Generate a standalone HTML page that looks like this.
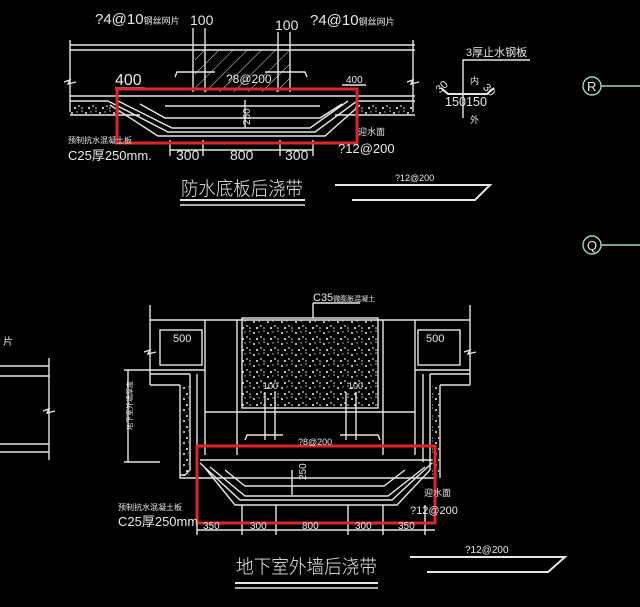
<!DOCTYPE html>
<html><head><meta charset="utf-8"><style>
html,body{margin:0;padding:0;background:#000;}
svg{display:block}
text{font-family:"Liberation Sans","Noto Sans CJK SC",sans-serif;fill:#e8e8e8}
</style></head><body>
<svg width="640" height="607" viewBox="0 0 640 607" xmlns="http://www.w3.org/2000/svg">
<rect width="640" height="607" fill="#000"/>
<defs>
<pattern id="hatch" width="10" height="10" patternUnits="userSpaceOnUse" patternTransform="rotate(45)">
<line x1="0" y1="0" x2="0" y2="10" stroke="#ddd" stroke-width="1"/></pattern>
<pattern id="dots" width="14" height="11" patternUnits="userSpaceOnUse">
<circle cx="2" cy="3" r="1" fill="#eee"/><circle cx="9" cy="7" r="0.9" fill="#ddd"/><circle cx="12" cy="1" r="0.8" fill="#ccc"/><circle cx="5" cy="9" r="1" fill="#fff"/><circle cx="7" cy="2" r="0.7" fill="#ccc"/><circle cx="12" cy="9" r="0.8" fill="#eee"/></pattern>
</defs>
<g stroke="#e6e6e6" stroke-width="1.4" fill="none">
<!-- TOP DRAWING -->
<line x1="70" y1="45" x2="415" y2="45"/><line x1="70" y1="50" x2="415" y2="50"/>
<line x1="70" y1="40" x2="70" y2="112"/><line x1="413" y1="40" x2="413" y2="112"/>
<polyline points="64,82 70,80 68,84 76,82"/><polyline points="407,82 413,80 411,84 419,82"/>
<line x1="70" y1="96" x2="415" y2="96"/><line x1="70" y1="101" x2="108" y2="101"/><line x1="357" y1="101" x2="415" y2="101"/>
<line x1="70" y1="115" x2="140" y2="115"/><line x1="335" y1="115" x2="415" y2="115"/>
<rect x="70" y="103" width="50" height="11" fill="url(#dots)" stroke="none"/>
<rect x="355" y="103" width="58" height="11" fill="url(#dots)" stroke="none"/>
<polygon points="195,50 290,50 290,92 195,92" fill="url(#hatch)" stroke="none"/>
<line x1="193" y1="28" x2="193" y2="92"/><line x1="205" y1="28" x2="205" y2="92"/>
<line x1="278" y1="32" x2="278" y2="92"/><line x1="290" y1="32" x2="290" y2="92"/>
<polyline points="175,77 177,72 215,72"/><polyline points="265,72 305,72 307,77"/>
<polyline points="108,101 168,132 315,132 357,101"/>
<polyline points="118,101 172,128 310,128 348,101"/>
<polyline points="140,104 165,118 320,118 342,104"/>
<line x1="165" y1="106" x2="320" y2="106"/>
<polyline points="110,105 158,136 325,136 360,105"/>
<line x1="170" y1="150" x2="313" y2="150"/>
<line x1="170" y1="140" x2="170" y2="156"/><line x1="203" y1="140" x2="203" y2="156"/><line x1="280" y1="140" x2="280" y2="156"/><line x1="313" y1="140" x2="313" y2="156"/>
<line x1="115" y1="88" x2="145" y2="88"/><line x1="342" y1="85" x2="366" y2="85"/>
<line x1="245" y1="100" x2="245" y2="128"/>
<line x1="180" y1="200" x2="305" y2="200" stroke-width="2"/><line x1="180" y1="205" x2="305" y2="205"/>
<polyline points="335,185 490,185 475,200 352,200" stroke-width="2"/>
<polyline points="463,118 463,60 530,60"/>
<polyline points="441,88 448,94 487,94 494,88" stroke-width="2"/>
<g stroke="#9fd9b0"><circle cx="592" cy="86" r="9"/><line x1="601" y1="86" x2="640" y2="86"/>
<circle cx="592" cy="245" r="9"/><line x1="601" y1="245" x2="640" y2="245"/></g>

<!-- BOTTOM DRAWING -->
<line x1="150" y1="320" x2="470" y2="320"/>
<line x1="150" y1="305" x2="150" y2="385"/><line x1="470" y1="305" x2="470" y2="385"/>
<polyline points="144,352 150,350 148,354 156,352"/><polyline points="464,352 470,350 468,354 476,352"/>
<line x1="150" y1="370" x2="205" y2="370"/><line x1="415" y1="370" x2="470" y2="370"/>
<line x1="150" y1="374" x2="190" y2="374"/><line x1="430" y1="374" x2="470" y2="374"/>
<line x1="150" y1="385" x2="180" y2="385"/><line x1="440" y1="385" x2="470" y2="385"/>
<rect x="160" y="330" width="42" height="35"/><rect x="418" y="330" width="42" height="35"/>
<rect x="242" y="318" width="136" height="90" fill="url(#dots)"/>
<line x1="313" y1="303" x2="313" y2="318"/><line x1="313" y1="303" x2="360" y2="303"/>
<line x1="205" y1="320" x2="205" y2="455"/><line x1="237" y1="320" x2="237" y2="455"/>
<line x1="383" y1="320" x2="383" y2="455"/><line x1="415" y1="320" x2="415" y2="455"/>
<line x1="205" y1="412" x2="415" y2="412"/>
<polyline points="190,374 190,470 185,475 180,475"/><polyline points="197,374 197,462"/>
<polyline points="180,385 180,478 435,478"/>
<polyline points="430,374 430,470"/><polyline points="423,374 423,462"/><polyline points="440,385 440,478"/>
<rect x="182" y="386" width="7" height="90" fill="url(#dots)" stroke="none"/>
<rect x="432" y="386" width="7" height="90" fill="url(#dots)" stroke="none"/>
<line x1="265" y1="392" x2="265" y2="440"/><line x1="275" y1="392" x2="275" y2="440"/>
<line x1="346" y1="392" x2="346" y2="440"/><line x1="356" y1="392" x2="356" y2="440"/>
<polyline points="245,440 247,435 283,435"/><polyline points="340,435 378,435 380,440"/>
<line x1="200" y1="460" x2="432" y2="460"/>
<polyline points="200,463 240,500 392,500 432,463"/>
<polyline points="210,467 245,496 388,496 425,467"/>
<polyline points="225,470 245,486 384,486 405,470"/>
<polyline points="205,468 235,505 397,505 430,470"/>
<line x1="292" y1="470" x2="292" y2="495"/>
<line x1="197" y1="530" x2="435" y2="530"/>
<line x1="197" y1="515" x2="197" y2="535"/><line x1="242" y1="505" x2="242" y2="535"/><line x1="276" y1="505" x2="276" y2="535"/><line x1="348" y1="505" x2="348" y2="535"/><line x1="383" y1="505" x2="383" y2="535"/><line x1="425" y1="505" x2="425" y2="535"/>
<line x1="128" y1="370" x2="128" y2="462"/><line x1="124" y1="370" x2="150" y2="370"/><line x1="124" y1="462" x2="160" y2="462"/>
<line x1="235" y1="583" x2="378" y2="583" stroke-width="2"/><line x1="235" y1="588" x2="378" y2="588"/>
<polyline points="410,557 565,557 548,572 427,572" stroke-width="2"/>
<line x1="0" y1="366" x2="49" y2="366"/><line x1="0" y1="376" x2="49" y2="376"/>
<line x1="0" y1="444" x2="49" y2="444"/><line x1="0" y1="452" x2="49" y2="452"/>
<line x1="49" y1="358" x2="49" y2="460"/><polyline points="43,411 49,409 47,413 55,411"/>
</g>
<rect x="117" y="89" width="240" height="54" fill="none" stroke="#e0242c" stroke-width="3"/>
<rect x="197" y="446" width="238" height="77" fill="none" stroke="#e0242c" stroke-width="3"/>

<text x="95" y="24" font-size="15">?4@10<tspan font-size="9">钢丝网片</tspan></text>
<text x="190" y="25" font-size="14">100</text>
<text x="275" y="30" font-size="14">100</text>
<text x="310" y="25" font-size="15">?4@10<tspan font-size="9">钢丝网片</tspan></text>
<text x="115" y="85" font-size="16">400</text>
<text x="226" y="83" font-size="12">?8@200</text>
<text x="346" y="83" font-size="10">400</text>
<text x="250" y="125" font-size="10" transform="rotate(-90 250 125)">250</text>
<text x="68" y="143" font-size="8">预制抗水混凝土板</text>
<text x="68" y="160" font-size="13">C25厚250mm.</text>
<text x="358" y="135" font-size="9">迎水面</text>
<text x="338" y="153" font-size="13">?12@200</text>
<text x="176" y="160" font-size="14">300</text><text x="230" y="160" font-size="14">800</text><text x="285" y="160" font-size="14">300</text>
<text x="181" y="195" font-size="19" textLength="122" lengthAdjust="spacingAndGlyphs" font-weight="300">防水底板后浇带</text>
<text x="395" y="181" font-size="9">?12@200</text>
<text x="466" y="56" font-size="11">3厚止水钢板</text>
<text x="470" y="84" font-size="9">内</text><text x="470" y="123" font-size="9">外</text>
<text x="445" y="106" font-size="13" textLength="42" lengthAdjust="spacingAndGlyphs">150150</text>
<text x="436" y="92" font-size="11" transform="rotate(-45 440 88)">30</text>
<text x="484" y="92" font-size="11" transform="rotate(45 488 88)">30</text>
<text x="587" y="91" font-size="13">R</text>
<text x="587" y="250" font-size="13">Q</text>
<text x="313" y="301" font-size="11">C35<tspan font-size="7">微膨胀混凝土</tspan></text>
<text x="173" y="342" font-size="11">500</text><text x="426" y="342" font-size="11">500</text>
<text x="263" y="389" font-size="9">100</text><text x="348" y="389" font-size="9">100</text>
<text x="298" y="445" font-size="9">?8@200</text>
<text x="296" y="490" font-size="10" transform="rotate(-90 296 480)">250</text>
<text x="122" y="440" font-size="7" transform="rotate(-90 122 430)">地下室外墙厚度</text>
<text x="118" y="510" font-size="8">预制抗水混凝土板</text>
<text x="118" y="526" font-size="13">C25厚250mm</text>
<text x="424" y="496" font-size="9">迎水面</text>
<text x="410" y="514" font-size="11">?12@200</text>
<text x="203" y="529" font-size="10">350</text><text x="250" y="529" font-size="10">300</text><text x="302" y="529" font-size="10">800</text><text x="355" y="529" font-size="10">300</text><text x="398" y="529" font-size="10">350</text>
<text x="236" y="573" font-size="19" textLength="141" lengthAdjust="spacingAndGlyphs" font-weight="300">地下室外墙后浇带</text>
<text x="465" y="553" font-size="10">?12@200</text>
<text x="3" y="345" font-size="10">片</text>
</svg>
</body></html>
